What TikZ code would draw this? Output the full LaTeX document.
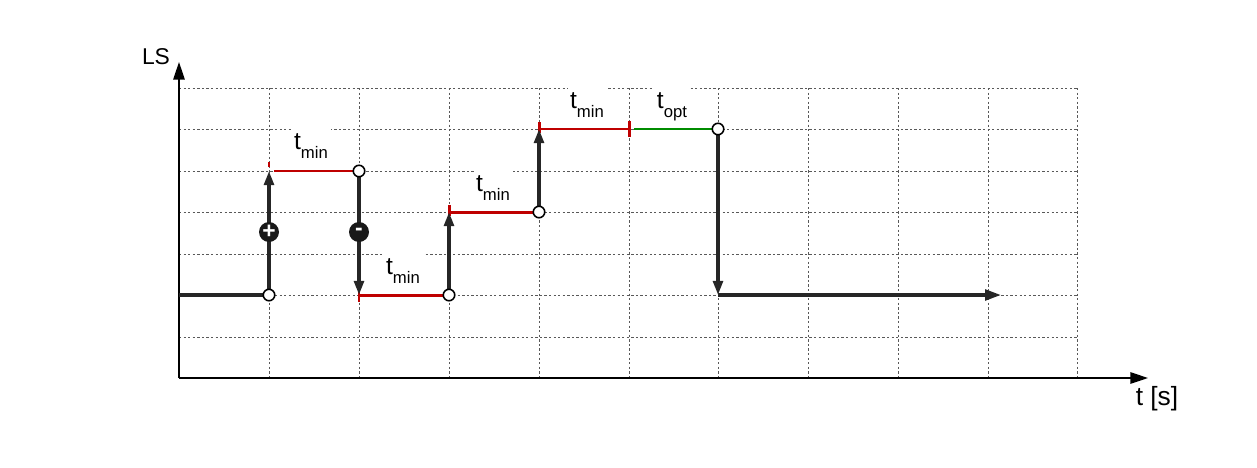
\documentclass[tikz,border=0pt]{standalone}
\usepackage{fontspec}
\setmainfont{Liberation Sans}
\usetikzlibrary{arrows.meta}
\newcommand{\tsub}[1]{t\raisebox{-5pt}{\fontsize{9.5}{9.5}\selectfont #1}}
\begin{document}
\begin{tikzpicture}[x=0.02cm,y=-0.02cm,
  grid/.style={line width=0.5pt, dash pattern=on 1.3pt off 1.3pt, black!65},
  axis/.style={line width=0.8pt, -{Triangle[length=10pt,width=6.5pt]}},
  sig/.style={line width=1.9pt, black!85},
  sigarr/.style={sig, -{Triangle[length=8pt,width=5.5pt]}},
  redl/.style={line width=1.7pt, red!75!black},
  greenl/.style={line width=1.7pt, green!55!black},
  dot/.style={circle, draw, line width=0.9pt, fill=white, inner sep=0pt, minimum size=2.3mm},
  sign/.style={circle, fill=black!90, inner sep=0pt, minimum size=4mm, text=white, font=\bfseries\fontsize{13}{13}\selectfont},
  lbl/.style={anchor=north, fill=white, inner sep=1.5pt, text depth=6pt, text height=10pt, font=\fontsize{14}{14}\selectfont},
  axlbl/.style={font=\fontsize{13}{13}\selectfont}]
\useasboundingbox (0,0) rectangle (1257,467);
% grid
\foreach \x in {269,359,449,539,629,718,808,898,988,1077}
  \draw[grid] (\x,88) -- (\x,378);
\foreach \y in {88,129,171,212,254,295,337}
  \draw[grid] (179,\y) -- (1077,\y);
% labels
\node[lbl] (l1) at (311,129) {\tsub{min}};
\node[lbl] (l2) at (403,254) {\tsub{min}};
\node[lbl] (l3) at (493,171) {\tsub{min}};
\node[lbl] (l4) at (587,88) {\tsub{min}};
\node[lbl] (l5) at (672,88) {\tsub{opt}};
% axes
\coordinate (O) at (179,378);
\coordinate (Y) at (179,62);
\coordinate (X) at (1148,378);
\draw[axis] (O) -- (Y);
\draw[axis] (O) -- (X);
\node[axlbl] (ls) at (156,57) {LS};
\node[axlbl, font=\fontsize{15}{15}\selectfont] (ts) at (1157,399) {t [s]};
% key points
\coordinate (s0) at (179,295);
\coordinate (a1) at (269,295);
\coordinate (a2) at (269,171);
\coordinate (b1) at (359,171);
\coordinate (b2) at (359,295);
\coordinate (c1) at (449,295);
\coordinate (c2) at (449,212);
\coordinate (d1) at (539,212);
\coordinate (d2) at (539,129);
\coordinate (e1) at (629,129);
\coordinate (f1) at (718,129);
\coordinate (f2) at (718,295);
\coordinate (g1) at (1001,295);
% red / green segments
\draw[redl] ([xshift=3]a2) -- (b1);
\draw[redl] (269,162) -- (269,167);
\draw[redl] (b2) -- (c1);
\draw[redl] (359,290) -- (359,302);
\draw[redl] (c2) -- (d1);
\draw[redl] (449,205) -- (449,216);
\draw[redl] (d2) -- (e1);
\draw[redl] (539,122) -- (539,133);
\draw[redl] (629,121) -- (629,137);
\draw[greenl] ([xshift=3]e1) -- (f1);
% black signal
\draw[sig] (s0) -- (a1);
\draw[sigarr] (a1) -- (a2);
\draw[sigarr] (b1) -- (b2);
\draw[sigarr] (c1) -- (c2);
\draw[sigarr] (d1) -- (d2);
\draw[sigarr] (f1) -- (f2);
\draw[sig, -{Triangle[length=9pt,width=6pt]}] (f2) -- (g1);
% markers
\node[dot] (p1) at (a1) {};
\node[dot] (p2) at (b1) {};
\node[dot] (p3) at (c1) {};
\node[dot] (p4) at (d1) {};
\node[dot] (p5) at (f1) {};
\node[sign] (plus) at (269,232) {+};
\node[sign] (minus) at (359,232) {-};
\end{tikzpicture}
\end{document}
